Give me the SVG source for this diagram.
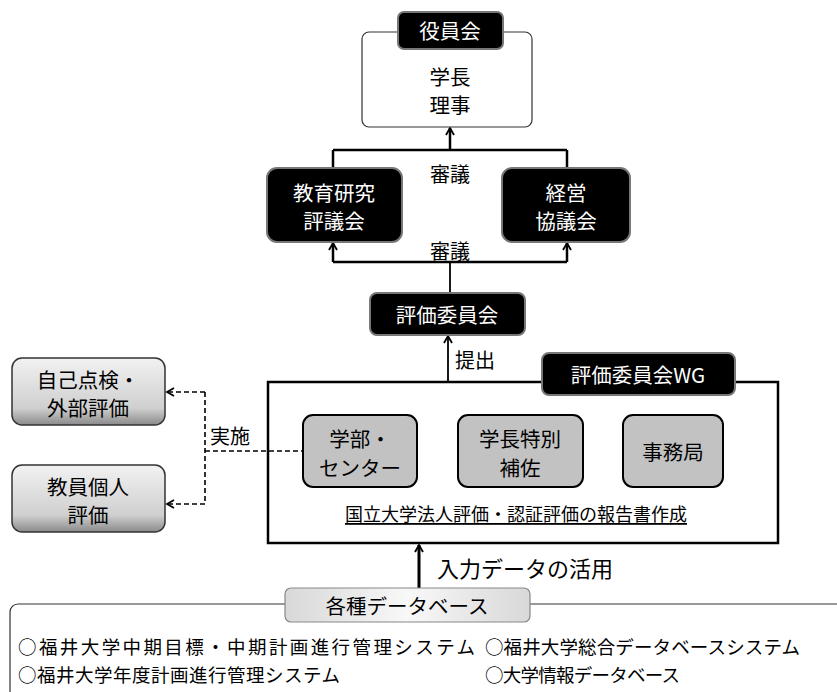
<svg xmlns="http://www.w3.org/2000/svg" width="837" height="692" viewBox="0 0 837 692">
<style>
text{font-family:"Noto Sans CJK JP","Noto Sans CJK SC",sans-serif;}
.w{fill:#fff;font-size:20.5px;text-anchor:middle;dominant-baseline:central;}
.b{fill:#000;font-size:20.5px;text-anchor:middle;dominant-baseline:central;}
.lbl{fill:#000;font-size:20px;dominant-baseline:central;}
.blk{fill:#000;stroke:#777;stroke-width:2;}
.gry{fill:#c2c2c2;stroke:#000;stroke-width:2;}
.ln{stroke:#000;stroke-width:2.5;fill:none;}
.dash{stroke:#000;stroke-width:1.6;fill:none;stroke-dasharray:5,3;}
.db{fill:#000;font-size:18.5px;dominant-baseline:central;}
</style>
<defs>
<marker id="ah" markerWidth="10" markerHeight="10" refX="8" refY="5" orient="auto" markerUnits="userSpaceOnUse">
<path d="M1,1 L8,5 L1,9" fill="none" stroke="#000" stroke-width="1.8"/>
</marker>
<linearGradient id="lg" x1="0" y1="0" x2="0" y2="1">
<stop offset="0" stop-color="#f2f2f2"/>
<stop offset="0.75" stop-color="#cfcfcf"/>
<stop offset="1" stop-color="#8a8a8a"/>
</linearGradient>
<linearGradient id="lg2" x1="0" y1="0" x2="1" y2="0">
<stop offset="0" stop-color="#d8d8d8"/>
<stop offset="0.5" stop-color="#f8f8f8"/>
<stop offset="1" stop-color="#d8d8d8"/>
</linearGradient>
</defs>

<g id="wg">
<rect x="268" y="382" width="510" height="161" fill="none" stroke="#000" stroke-width="2.5"/>
<rect class="blk" x="542" y="353" width="193" height="42" rx="7"/>
<text class="w" x="638" y="374">評価委員会WG</text>
<text x="516" y="513" style="font-size:18px;text-anchor:middle;dominant-baseline:central;text-decoration:underline" fill="#000">国立大学法人評価・認証評価の報告書作成</text>
</g>

<g id="connectors">
<line class="ln" x1="333" y1="150" x2="567" y2="150"/>
<line class="ln" x1="333" y1="150" x2="333" y2="168"/>
<line class="ln" x1="567" y1="150" x2="567" y2="168"/>
<line class="ln" x1="450" y1="150" x2="450" y2="128" marker-end="url(#ah)"/>
<line class="ln" x1="333" y1="262" x2="567" y2="262"/>
<line class="ln" x1="333" y1="262" x2="333" y2="243" marker-end="url(#ah)"/>
<line class="ln" x1="567" y1="262" x2="567" y2="243" marker-end="url(#ah)"/>
<line stroke="#000" stroke-width="1.8" x1="450" y1="262" x2="450" y2="293"/>
<line stroke="#000" stroke-width="1.8" x1="448" y1="382" x2="448" y2="336" marker-end="url(#ah)"/>
<line class="dash" x1="205" y1="451" x2="303" y2="451"/>
<line class="dash" x1="205" y1="392" x2="205" y2="504"/>
<line class="dash" x1="205" y1="392" x2="167" y2="392" marker-end="url(#ah)"/>
<line class="dash" x1="205" y1="504" x2="167" y2="504" marker-end="url(#ah)"/>
<line stroke="#000" stroke-width="3" x1="419" y1="590" x2="419" y2="545" marker-end="url(#ah)"/>
<text class="lbl" x="450" y="173" text-anchor="middle">審議</text>
<text class="lbl" x="450" y="250" text-anchor="middle">審議</text>
<text class="lbl" x="455" y="359">提出</text>
<text class="lbl" x="210" y="435">実施</text>
<text class="lbl" x="437" y="567" style="font-size:22px">入力データの活用</text>
</g>

<g id="board">
<rect x="362" y="32" width="170" height="95" rx="7" fill="#fff" stroke="#333" stroke-width="1.2"/>
<text class="b" x="450" y="76">学長</text>
<text class="b" x="450" y="104">理事</text>
<rect class="blk" x="398" y="12" width="105" height="37" rx="6"/>
<text class="w" x="450" y="30">役員会</text>
</g>

<g id="kyoiku">
<rect class="blk" x="267" y="168" width="135" height="74" rx="10"/>
<text class="w" x="334" y="192">教育研究</text>
<text class="w" x="334" y="220">評議会</text>
</g>

<g id="keiei">
<rect class="blk" x="502" y="168" width="128" height="74" rx="10"/>
<text class="w" x="566" y="192">経営</text>
<text class="w" x="566" y="220">協議会</text>
</g>

<g id="hyoka">
<rect class="blk" x="370" y="293" width="155" height="42" rx="7"/>
<text class="w" x="447" y="314">評価委員会</text>
</g>

<g id="gakubu">
<rect class="gry" x="303" y="415" width="114" height="72" rx="10"/>
<text class="b" x="360" y="438">学部・</text>
<text class="b" x="360" y="467">センター</text>
</g>

<g id="hosa">
<rect class="gry" x="458" y="415" width="125" height="72" rx="10"/>
<text class="b" x="520" y="438">学長特別</text>
<text class="b" x="520" y="467">補佐</text>
</g>

<g id="jimu">
<rect class="gry" x="623" y="415" width="100" height="72" rx="10"/>
<text class="b" x="673" y="451">事務局</text>
</g>

<g id="jiko">
<rect x="12" y="358" width="153" height="67" rx="10" fill="url(#lg)" stroke="#333" stroke-width="1.5"/>
<text class="b" x="88" y="379">自己点検・</text>
<text class="b" x="88" y="407">外部評価</text>
</g>

<g id="kyoin">
<rect x="12" y="465" width="153" height="67" rx="10" fill="url(#lg)" stroke="#333" stroke-width="1.5"/>
<text class="b" x="88" y="486">教員個人</text>
<text class="b" x="88" y="514">評価</text>
</g>

<g id="database">
<rect x="10" y="604" width="850" height="100" rx="8" fill="#fff" stroke="#333" stroke-width="1.2"/>
<rect x="285" y="588" width="245" height="34" rx="6" fill="url(#lg2)" stroke="#888" stroke-width="1.2"/>
<text class="b" x="407" y="605">各種データベース</text>
<text class="db" x="18" y="646" textLength="457">○福井大学中期目標・中期計画進行管理システム</text>
<text class="db" x="485" y="646" textLength="315">○福井大学総合データベースシステム</text>
<text class="db" x="18" y="674" textLength="322">○福井大学年度計画進行管理システム</text>
<text class="db" x="485" y="674" textLength="195">○大学情報データベース</text>
</g>
</svg>
